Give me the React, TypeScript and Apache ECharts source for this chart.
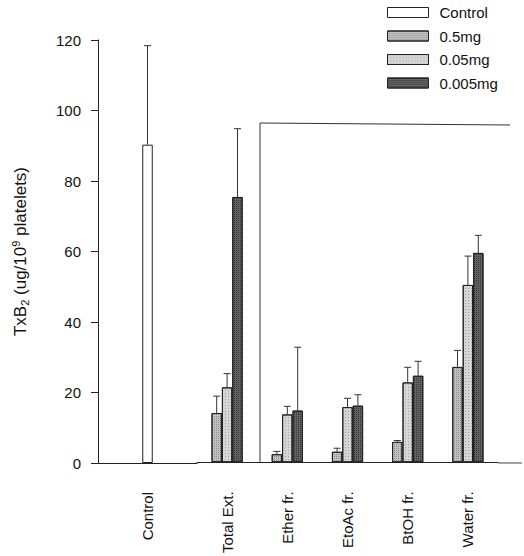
import React, { useEffect, useRef } from "react";
import * as echarts from "echarts";

const controlCategory = ["Control"];
const controlValue = [90.3];
const controlError = [28.1];

const categories = ["Total Ext.", "Ether fr.", "EtoAc fr.", "BtOH fr.", "Water fr."];
const doseNames = ["0.5mg", "0.05mg", "0.005mg"];
const dose05 = [14.0, 2.3, 3.0, 5.8, 27.1];
const dose005 = [21.3, 13.6, 15.7, 22.7, 50.4];
const dose0005 = [75.4, 14.7, 16.1, 24.6, 59.5];
const err05 = [4.8, 0.8, 1.0, 0.4, 4.7];
const err005 = [3.9, 2.3, 2.5, 4.3, 8.2];
const err0005 = [19.4, 18.0, 3.1, 4.1, 5.0];

const yTicks = { min: 0, max: 120, interval: 20 };

const FONT = "'Liberation Sans', Arial, sans-serif";
const BAR_W = 10.4;
const CAP = 7;

const doseValues = [dose05, dose005, dose0005];
const doseErrors = [err05, err005, err0005];
const doseFill = ["#c2c2c2", "#d6d6d6", "#626262"];
const doseDecal = [
  { symbol: "rect", symbolSize: 1, dashArrayX: [1, 1], dashArrayY: [1, 1], color: "rgba(0,0,0,0.28)" },
  { symbol: "rect", symbolSize: 1, dashArrayX: [1, 2], dashArrayY: [1, 2], color: "rgba(0,0,0,0.25)" },
  { symbol: "rect", symbolSize: 1, dashArrayX: [1, 1], dashArrayY: [1, 1], color: "rgba(0,0,0,0.45)" },
];

function errorRenderer(offsetIndex: number, count: number) {
  return (params: any, api: any) => {
    const x = api.value(0);
    const v = api.value(1);
    const e = api.value(2);
    const base = api.coord([x, v]);
    const top = api.coord([x, v + e]);
    const cx = base[0] + (offsetIndex - (count - 1) / 2) * BAR_W;
    const style = { stroke: "#333", lineWidth: 1 };
    return {
      type: "group",
      children: [
        { type: "line", shape: { x1: cx, y1: base[1], x2: cx, y2: top[1] }, style },
        { type: "line", shape: { x1: cx - CAP / 2, y1: top[1], x2: cx + CAP / 2, y2: top[1] }, style },
      ],
    };
  };
}

export default function App() {
  const ref = useRef<HTMLDivElement>(null);
  useEffect(() => {
    if (!ref.current) return;
    const chart = echarts.init(ref.current, null, { renderer: "svg" });
    const gridTop = 40;
    const gridBottom = 93;
    const axisLine = { show: true, lineStyle: { color: "#222", width: 1 } };
    const xLabel = {
      rotate: 90,
      fontSize: 15,
      color: "#111",
      fontFamily: FONT,
      margin: 29,
      interval: 0,
    };
    const series: any[] = [
      {
        name: "Control",
        type: "bar",
        xAxisIndex: 0,
        yAxisIndex: 0,
        data: controlValue,
        barWidth: 10.5,
        itemStyle: { color: "#ffffff", borderColor: "#222", borderWidth: 1 },
      },
      {
        type: "custom",
        xAxisIndex: 0,
        yAxisIndex: 0,
        z: 5,
        renderItem: errorRenderer(0, 1),
        data: controlValue.map((v, i) => [i, v, controlError[i]]),
      },
    ];
    doseNames.forEach((name, k) => {
      series.push({
        name,
        type: "bar",
        xAxisIndex: 1,
        yAxisIndex: 1,
        data: doseValues[k],
        barWidth: BAR_W,
        barGap: "0%",
        itemStyle: { color: doseFill[k], borderColor: "#222", borderWidth: 1, decal: doseDecal[k] },
      });
    });
    doseNames.forEach((name, k) => {
      series.push({
        type: "custom",
        xAxisIndex: 1,
        yAxisIndex: 1,
        z: 5,
        renderItem: errorRenderer(k, doseNames.length),
        data: doseValues[k].map((v, i) => [i, v, doseErrors[k][i]]),
      });
    });

    chart.setOption({
      animation: false,
      backgroundColor: "#ffffff",
      textStyle: { fontFamily: FONT },
      legend: {
        data: ["Control", ...doseNames],
        orient: "vertical",
        left: 387,
        top: 5,
        padding: 0,
        itemWidth: 41,
        itemHeight: 10,
        itemGap: 8.5,
        icon: "rect",
        textStyle: { fontSize: 15, color: "#111", lineHeight: 15, fontFamily: FONT, padding: [0, 0, 0, 6] },
        itemStyle: { borderColor: "#222", borderWidth: 1 },
        selectedMode: false,
      },
      grid: [
        { left: 98, width: 99, top: gridTop, bottom: gridBottom },
        { left: 197, width: 301, top: gridTop, bottom: gridBottom },
      ],
      xAxis: [
        {
          type: "category",
          gridIndex: 0,
          data: controlCategory,
          axisLine,
          axisTick: { show: false },
          axisLabel: xLabel,
        },
        {
          type: "category",
          gridIndex: 1,
          data: categories,
          axisLine,
          axisTick: { show: false },
          axisLabel: xLabel,
        },
      ],
      yAxis: [
        {
          type: "value",
          gridIndex: 0,
          min: yTicks.min,
          max: yTicks.max,
          interval: yTicks.interval,
          axisLine,
          axisTick: { show: true, inside: false, length: 7, lineStyle: { color: "#222" } },
          axisLabel: { fontSize: 15, color: "#111", margin: 17, fontFamily: FONT },
          splitLine: { show: false },
          name: "{a|TxB}{sub|2}{a| (ug/10}{sup|9}{a| platelets)}",
          nameLocation: "middle",
          nameGap: 68,
          nameRotate: 90,
          nameTextStyle: {
            rich: {
              a: { fontSize: 17, color: "#111", fontFamily: FONT },
              sub: { fontSize: 11, color: "#111", fontFamily: FONT, verticalAlign: "bottom", padding: [9, 0, 0, 0] },
              sup: { fontSize: 11, color: "#111", fontFamily: FONT, verticalAlign: "top", padding: [0, 0, 9, 0] },
            },
          },
        },
        {
          type: "value",
          gridIndex: 1,
          min: yTicks.min,
          max: yTicks.max,
          interval: yTicks.interval,
          show: false,
          splitLine: { show: false },
        },
      ],
      graphic: [
        {
          type: "polyline",
          shape: { points: [[260, 463], [260, 123], [510, 125]] },
          style: { stroke: "#333", lineWidth: 1, fill: "none" },
          silent: true,
        },
        {
          type: "line",
          shape: { x1: 498, y1: 463, x2: 522, y2: 463 },
          style: { stroke: "#444", lineWidth: 1 },
          silent: true,
        },
      ],
      series,
    });
    return () => chart.dispose();
  }, []);
  return (
    <div
      ref={ref}
      style={{ position: "fixed", left: 0, top: 0, width: 524, height: 556, background: "#fff" }}
    />
  );
}
